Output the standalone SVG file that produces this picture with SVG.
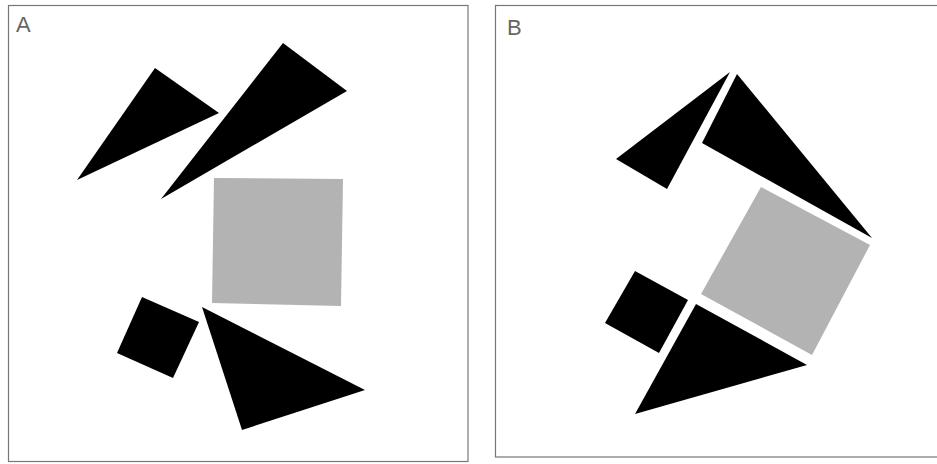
<svg xmlns="http://www.w3.org/2000/svg" width="937" height="464" viewBox="0 0 937 464">
<style>
.frame{fill:#fff;stroke:#777;stroke-width:1.2}
.blk{fill:#000}
.gry{fill:#b3b3b3}
.lbl{font-family:"Liberation Sans",Arial,sans-serif;font-size:22px;fill:#666}
</style>
<rect width="937" height="464" fill="#fff"/>
<g id="panelA">
<rect class="frame" x="8.5" y="5.5" width="459.5" height="456"/>
<text class="lbl" x="16" y="32">A</text>
<polygon id="A-tri1" class="blk" points="155,68 219,113 77,180"/>
<polygon id="A-tri2" class="blk" points="283,43 347,91 161,199"/>
<polygon id="A-gray" class="gry" points="214,178 343,179 341,306 212,303"/>
<polygon id="A-sq" class="blk" points="142,297 199,322 173,378 117,353"/>
<polygon id="A-tri3" class="blk" points="202,307 365,390 242,430"/>
</g>
<g id="panelB">
<rect class="frame" x="495.5" y="5.5" width="450" height="451.5"/>
<text class="lbl" x="507" y="35">B</text>
<polygon id="B-tri1" class="blk" points="730,72 667,189 616,159"/>
<polygon id="B-tri2" class="blk" points="737,74 872,238 702,143"/>
<polygon id="B-gray" class="gry" points="761,187 870,245 812,355 701,294"/>
<polygon id="B-sq" class="blk" points="635,271 688,300 659,353 605,323"/>
<polygon id="B-tri3" class="blk" points="696,304 807,365 635,414"/>
</g>
</svg>
